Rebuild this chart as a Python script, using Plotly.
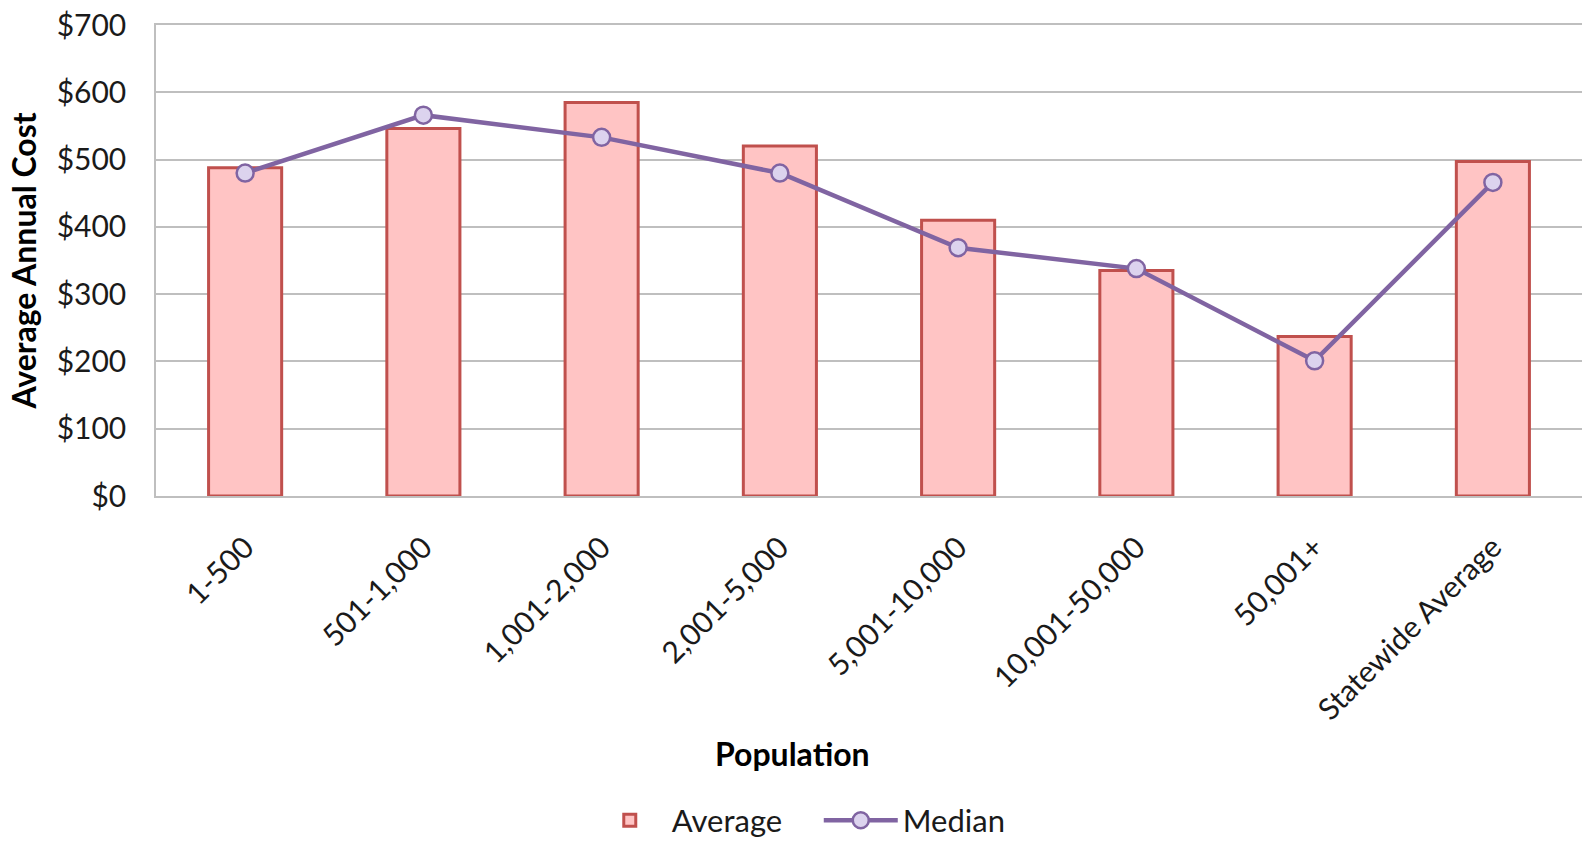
import plotly.graph_objects as go

categories = ["1-500", "501-1,000", "1,001-2,000", "2,001-5,000", "5,001-10,000",
              "10,001-50,000", "50,001+", "Statewide Average"]
average_cost = [488, 546, 585, 520, 410, 335, 237, 497]
median_cost = [480, 566, 533, 480, 369, 338, 201, 466]
y_ticks = [0, 100, 200, 300, 400, 500, 600, 700]
y_tick_labels = ["$" + str(v) for v in y_ticks]

FONT = "Lato, Carlito, Calibri, sans-serif"

fig = go.Figure()
fig.add_trace(go.Bar(
    x=categories, y=average_cost, name="Average",
    marker=dict(color="#FFC4C4", line=dict(color="#C0504D", width=3)),
    width=0.41,
))
fig.add_trace(go.Scatter(
    x=categories, y=median_cost, name="Median", mode="lines+markers",
    line=dict(color="#8064A2", width=4.5),
    marker=dict(symbol="circle", size=17, color="#DCD3EE",
                line=dict(color="#8064A2", width=2.5)),
))

fig.update_layout(
    width=1583, height=846,
    margin=dict(l=156, r=1, t=25, b=350),
    paper_bgcolor="white", plot_bgcolor="white",
    font=dict(family=FONT, size=30, color="#1a1a1a"),
    showlegend=True,
    legend=dict(orientation="h", xref="container", yref="container",
                x=0.3713, xanchor="left", y=0.03, yanchor="middle",
                font=dict(size=31, color="#1a1a1a"), itemwidth=74,
                entrywidth=142, traceorder="normal"),
    bargap=0.59,
)
fig.update_yaxes(
    range=[0, 700], tickvals=y_ticks, ticktext=y_tick_labels,
    showgrid=True, gridcolor="#BFBFBF", gridwidth=1.5,
    showline=True, linecolor="#BFBFBF", linewidth=1.5,
    ticks="", ticklabelstandoff=22, zeroline=False,
    tickfont=dict(size=30),
    title=dict(text="<b>Average Annual Cost</b>", font=dict(size=32, color="#000"),
               standoff=10),
    fixedrange=True,
)
fig.update_xaxes(
    showline=True, linecolor="#BFBFBF", linewidth=1.5, mirror=True,
    tickangle=-45, ticks="", ticklabelstandoff=20, showgrid=False,
    tickfont=dict(size=30),
    fixedrange=True,
)
fig.add_annotation(
    text="<b>Population</b>", xref="paper", yref="paper",
    x=0.4467, y=-0.547, xanchor="center", yanchor="middle",
    showarrow=False, font=dict(size=32, color="#000"),
)

fig.write_html("out.html", config={"displayModeBar": False},
               post_script="document.body.style.margin='0';")
